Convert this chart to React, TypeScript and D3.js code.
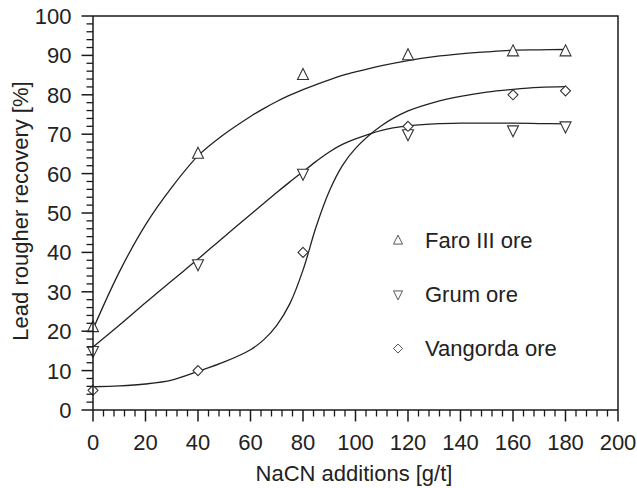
import React from "react";
import * as d3 from "d3";

// Measured data points (NaCN g/t vs recovery %)
const doses = [0, 40, 80, 120, 160, 180];
const faroPoints = [21, 65, 85, 90, 91, 91];
const grumPoints = [15, 37, 60, 70, 71, 72];
const vangordaPoints = [5, 10, 40, 72, 80, 81];

// Fitted curves
const curveX = [0, 10, 20, 30, 40, 50, 60, 65, 70, 75, 80, 85, 90, 95, 100, 110, 120, 130, 140, 150, 160, 170, 180];
const faroCurve = [20.5, 35, 47, 56.5, 64.5, 70, 74.5, 76.5, 78.3, 79.9, 81.3, 82.6, 83.8, 84.9, 85.8, 87.4, 88.7, 89.7, 90.4, 90.9, 91.3, 91.4, 91.5];
const grumCurve = [16, 21.5, 27.2, 32.8, 38.3, 44, 49.6, 52.4, 55.2, 57.9, 60.5, 63.1, 65.5, 67.4, 68.8, 71, 72.1, 72.6, 72.8, 72.8, 72.8, 72.7, 72.6];
const vangordaCurve = [5.9, 6.1, 6.6, 7.6, 9.8, 12.2, 15.3, 17.8, 21.5, 27, 35.5, 46.5, 55.5, 62, 66.4, 72.2, 75.9, 78.1, 79.6, 80.7, 81.4, 81.9, 82.1];

const xTicks = [0, 20, 40, 60, 80, 100, 120, 140, 160, 180, 200];
const yTicks = [0, 10, 20, 30, 40, 50, 60, 70, 80, 90, 100];
const legendLabels = ["Faro III ore", "Grum ore", "Vangorda ore"];

const W = 637;
const H = 488;
const left = 93;
const right = 618;
const top = 16;
const bottom = 410;
const FONT = "'Liberation Sans', Arial, sans-serif";
const FS = 22;

const x = d3.scaleLinear().domain([0, 200]).range([left, right]);
const y = d3.scaleLinear().domain([0, 100]).range([bottom, top]);

type Shape = "up" | "down" | "diamond";

function markerPath(shape: Shape, s: number): string {
  const w = s / 2;
  if (shape === "up") return `M0,${-s * 0.6}L${w},${s * 0.4}L${-w},${s * 0.4}Z`;
  if (shape === "down") return `M0,${s * 0.6}L${w},${-s * 0.4}L${-w},${-s * 0.4}Z`;
  return `M0,${-w}L${w},0L0,${w}L${-w},0Z`;
}

const series: { name: string; pts: number[]; curve: number[]; shape: Shape }[] = [
  { name: legendLabels[0], pts: faroPoints, curve: faroCurve, shape: "up" },
  { name: legendLabels[1], pts: grumPoints, curve: grumCurve, shape: "down" },
  { name: legendLabels[2], pts: vangordaPoints, curve: vangordaCurve, shape: "diamond" },
];

const line = d3
  .line<[number, number]>()
  .x((d) => x(d[0]))
  .y((d) => y(d[1]))
  .curve(d3.curveCatmullRom.alpha(0.5));

export default function App() {
  const xMinor = d3.range(0, 201, 4).filter((v) => v % 20 !== 0);
  const yMinor = d3.range(0, 101, 2).filter((v) => v % 10 !== 0);
  const ink = "#1a1a1a";
  return (
    <svg
      width={W}
      height={H}
      style={{ position: "absolute", left: 0, top: 0, background: "#fff" }}
      fontFamily={FONT}
    >
      <rect x={0} y={0} width={W} height={H} fill="#fff" />
      {/* curves */}
      {series.map((s) => (
        <path
          key={s.name + "c"}
          d={line(curveX.map((cx, i) => [cx, s.curve[i]] as [number, number])) || ""}
          fill="none"
          stroke="#222"
          strokeWidth={1.3}
        />
      ))}
      {/* markers */}
      {series.map((s) =>
        doses.map((dv, i) => (
          <path
            key={s.name + i}
            d={markerPath(s.shape, s.shape === "diamond" ? 10 : 11)}
            transform={`translate(${x(dv)},${y(s.pts[i])})`}
            fill="#fff"
            stroke="#333"
            strokeWidth={1.1}
          />
        ))
      )}
      {/* frame */}
      <path d={`M${left},${top}H${right}V${bottom}`} fill="none" stroke={ink} strokeWidth={1.5} />
      <line x1={left} x2={right} y1={bottom} y2={bottom} stroke={ink} strokeWidth={1.5} />
      <line x1={left} x2={left} y1={top} y2={bottom} stroke={ink} strokeWidth={1.5} />
      {/* y ticks */}
      {yTicks.map((t) => (
        <g key={"yt" + t}>
          <line x1={left - 11.5} x2={left} y1={y(t)} y2={y(t)} stroke={ink} strokeWidth={1.5} />
          <text x={71.5} y={y(t)} dy="0.36em" textAnchor="end" fontSize={FS} fill="#222">
            {t}
          </text>
        </g>
      ))}
      {yMinor.map((t) => (
        <line key={"ym" + t} x1={left - 6.5} x2={left} y1={y(t)} y2={y(t)} stroke={ink} strokeWidth={1.3} />
      ))}
      {/* x ticks */}
      {xTicks.map((t) => (
        <g key={"xt" + t}>
          <line x1={x(t)} x2={x(t)} y1={bottom} y2={bottom + 11.5} stroke={ink} strokeWidth={1.5} />
          <text x={x(t)} y={450} textAnchor="middle" fontSize={FS} fill="#222">
            {t}
          </text>
        </g>
      ))}
      {xMinor.map((t) => (
        <line key={"xm" + t} x1={x(t)} x2={x(t)} y1={bottom} y2={bottom + 6.5} stroke={ink} strokeWidth={1.3} />
      ))}
      {/* axis titles */}
      <text x={354} y={481} textAnchor="middle" fontSize={FS} fill="#222">
        NaCN additions [g/t]
      </text>
      <text transform="translate(28,211) rotate(-90)" textAnchor="middle" fontSize={FS} fill="#222">
        Lead rougher recovery [%]
      </text>
      {/* legend */}
      {series.map((s, i) => {
        const cy = 240.5 + i * 54;
        return (
          <g key={"lg" + i}>
            <path
              d={markerPath(s.shape, 9)}
              transform={`translate(398,${cy})`}
              fill="#fff"
              stroke="#444"
              strokeWidth={0.9}
            />
            <text x={425} y={cy} dy="0.36em" fontSize={FS} fill="#222">
              {s.name}
            </text>
          </g>
        );
      })}
    </svg>
  );
}
